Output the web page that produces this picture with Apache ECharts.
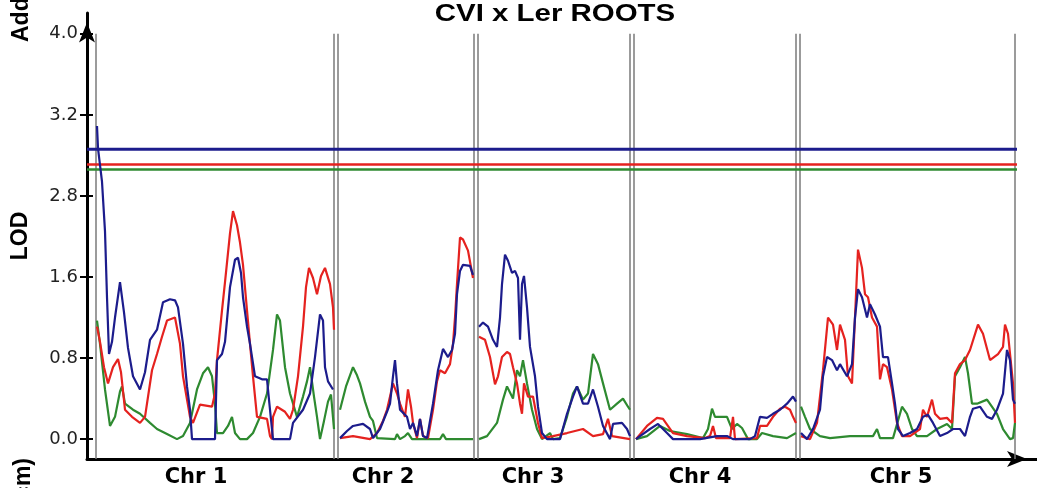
<!DOCTYPE html>
<html>
<head>
<meta charset="utf-8">
<title>CVI x Ler ROOTS</title>
<script src="https://cdn.jsdelivr.net/npm/echarts@6/dist/echarts.min.js"></script>
<style>
  html, body { margin: 0; padding: 0; background: #fff; }
  #main { width: 1037px; height: 488px; }
</style>
</head>
<body>
<div id="main"></div>
<script>
// genetic map layout (cM)
const chrNames = ['Chr 1', 'Chr 2', 'Chr 3', 'Chr 4', 'Chr 5'];
const chrLength = [119, 68, 76, 81, 107.5];
const chrLabelPos = [54.5, 148, 223, 306.5, 407];
const leftPad = 4.5;
const chrGap = 2;

const yTickValues = [0, 0.8, 1.6, 2.4, 3.2, 4.0];
const yTickLabels = ['0.0', '0.8', '1.6', '2.8', '3.2', '4.0'];

// significance thresholds (blue, red, green)
const thresholds = [2.86, 2.71, 2.66];

// LOD profiles: [position on chromosome (cM), LOD]
const blueChr1 = [[0.5,3.09],[1,2.87],[3,2.54],[4.5,2.05],[5.5,1.40],[6.5,0.84],[8,0.96],[9.5,1.20],[12,1.55],[14,1.25],[16,0.90],[18.5,0.62],[22,0.49],[24.5,0.66],[27,0.98],[30.5,1.08],[33.5,1.35],[37,1.38],[39.5,1.37],[41,1.30],[43.5,0.94],[45.5,0.52],[47,0.29],[48,0],[59.5,0],[60.5,0.78],[63,0.84],[64.5,0.96],[67,1.50],[69.5,1.77],[71,1.79],[72.5,1.64],[73.5,1.40],[75.5,1.11],[77,0.94],[79.5,0.62],[83,0.59],[85.5,0.59],[87,0.29],[88.5,0],[97,0],[98.5,0.16],[103.5,0.29],[107,0.45],[109.5,0.81],[112,1.23],[113.5,1.17],[114.5,0.71],[116,0.57],[118.5,0.49]];
const redChr1 = [[0.5,1.11],[2,0.96],[4,0.71],[6,0.55],[8.5,0.71],[11,0.79],[12.5,0.66],[14.5,0.29],[18,0.22],[22,0.16],[24.5,0.22],[28,0.68],[30.5,0.84],[33,1.01],[35.5,1.17],[39.5,1.20],[42,0.94],[43.5,0.62],[47,0.22],[48.5,0.16],[52,0.34],[58,0.32],[59.5,0.45],[60.5,0.78],[63,1.27],[64.5,1.55],[67,2.03],[68.5,2.25],[70.5,2.11],[72,1.94],[73.5,1.72],[75.5,1.27],[77,0.94],[78.5,0.62],[80.5,0.22],[85.5,0.20],[87,0.03],[88,0],[88.5,0.22],[90.5,0.32],[94.5,0.27],[97,0.20],[98.5,0.29],[101,0.62],[103.5,1.11],[105,1.50],[106.5,1.69],[108.5,1.59],[110.5,1.43],[112.5,1.61],[114.5,1.69],[117,1.53],[118.5,1.30],[119,1.08]];
const greenChr1 = [[0.5,1.17],[2,0.94],[4.5,0.49],[7,0.13],[9.5,0.22],[12,0.47],[13,0.52],[14.5,0.35],[18.5,0.29],[22,0.25],[27,0.16],[30.5,0.10],[35.5,0.05],[40.5,0],[43.5,0.03],[47,0.16],[50.5,0.49],[53.5,0.65],[56,0.71],[58,0.62],[59.5,0.35],[60.5,0.06],[63.5,0.06],[66,0.13],[68,0.22],[69.5,0.06],[72,0],[75.5,0],[78.5,0.06],[82,0.22],[85.5,0.45],[88.5,0.88],[90.5,1.23],[92,1.17],[94.5,0.71],[97,0.45],[100.5,0.22],[103.5,0.42],[105.5,0.57],[107,0.71],[109,0.42],[110.5,0.22],[112,0],[114,0.18],[116,0.37],[117.5,0.44],[119,0.10]];

const blueChr2 = [[1,0.01],[4.5,0.08],[7.5,0.13],[12.5,0.15],[16,0.10],[17.5,0.01],[21,0.10],[24.5,0.27],[26,0.35],[27.5,0.62],[28.5,0.78],[29.5,0.55],[31,0.29],[34.5,0.22],[36,0.10],[37.5,0.16],[39.5,0.03],[41,0.20],[42.5,0.03],[44.5,0.01],[47.5,0.35],[50,0.68],[52.5,0.89],[55,0.81],[57,0.88],[58.5,1.04],[59.5,1.43],[61,1.66],[62.5,1.72],[66,1.71],[67.5,1.62]];
const redChr2 = [[1,0.01],[7.5,0.03],[16,0],[19.5,0.06],[22.5,0.18],[24.5,0.29],[27.5,0.55],[29.5,0.45],[31,0.35],[33.5,0.22],[35,0.49],[36.5,0.32],[37.5,0.16],[39.5,0.01],[41,0.20],[42.5,0.03],[45,0.01],[47.5,0.29],[49.5,0.57],[51,0.68],[53.5,0.65],[56,0.74],[57.5,0.94],[58.5,1.20],[59.5,1.53],[61,1.99],[62.5,1.97],[65,1.86],[67.5,1.59]];
const greenChr2 = [[1,0.29],[4,0.52],[7.5,0.71],[9.5,0.63],[11,0.55],[13.5,0.37],[16,0.22],[17.5,0.18],[19.5,0.01],[28.5,0],[29.5,0.05],[31,0],[33.5,0.03],[35,0.06],[37,0],[51,0],[52.5,0.05],[54,0],[67.5,0]];

const blueChr3 = [[0.5,1.11],[2.5,1.15],[5,1.11],[7.5,0.98],[9.5,0.91],[11,1.20],[12,1.53],[13.5,1.82],[15,1.76],[17,1.64],[18.5,1.66],[20,1.59],[21,0.98],[22,1.53],[23,1.61],[24.5,1.30],[26,0.91],[28.5,0.62],[30,0.32],[32,0.06],[34.5,0],[41,0],[44.5,0.25],[47.5,0.42],[49.5,0.52],[52.5,0.35],[55,0.35],[57.5,0.49],[60,0.32],[62.5,0.13],[66,0],[67.5,0.15],[72,0.16],[74.5,0.10],[76,0.03]];
const redChr3 = [[0.5,1.01],[3.5,0.98],[6,0.81],[8.5,0.54],[10,0.62],[12,0.81],[14.5,0.86],[16,0.84],[17.5,0.71],[19.5,0.55],[21,0.35],[22,0.25],[23,0.55],[25,0.42],[27.5,0.42],[30,0.16],[32,0.01],[37.5,0.03],[44.5,0.06],[52.5,0.10],[57.5,0.03],[62.5,0.05],[65,0.20],[67,0.03],[76,0]];
const greenChr3 = [[0.5,0],[4.5,0.03],[9.5,0.16],[12.5,0.39],[14.5,0.52],[17.5,0.40],[19.5,0.68],[21,0.62],[22.5,0.78],[24.5,0.55],[27,0.29],[29.5,0.10],[32,0],[36,0.06],[37.5,0],[41,0.01],[44.5,0.22],[47.5,0.45],[49.5,0.52],[52.5,0.39],[55,0.45],[57.5,0.84],[60,0.74],[62.5,0.55],[66,0.29],[69.5,0.35],[72.5,0.40],[75,0.32],[76,0.29]];

const blueChr4 = [[1,0],[3,0.03],[8,0.10],[12,0.15],[16.5,0.06],[19.5,0],[33,0],[41.5,0.03],[46.5,0.03],[49.5,0],[58,0],[60.5,0.03],[63,0.22],[66.5,0.21],[69.5,0.25],[73,0.29],[76.5,0.35],[79.5,0.42],[81,0.37]];
const redChr4 = [[1,0],[6.5,0.13],[11.5,0.21],[14.5,0.20],[19.5,0.06],[26.5,0.03],[35.5,0.01],[38,0.03],[39.5,0.13],[41,0.01],[48,0.01],[49.5,0.22],[50.5,0],[61.5,0.01],[63,0.13],[66.5,0.13],[69.5,0.22],[73,0.30],[75.5,0.32],[78,0.29],[79.5,0.22],[81,0.16]];
const greenChr4 = [[1,0],[6.5,0.03],[13,0.13],[18,0.08],[26.5,0.05],[34.5,0.01],[37,0.10],[39,0.30],[40.5,0.22],[46.5,0.22],[49,0.10],[51.5,0.15],[54,0.11],[57,0],[61.5,0],[64,0.06],[69.5,0.03],[76.5,0.01],[81,0.06]];

const blueChr5 = [[0.5,0.06],[3.5,0],[6.5,0.10],[10,0.29],[11.5,0.62],[13.5,0.81],[16,0.78],[18.5,0.68],[20,0.74],[23.5,0.62],[26,0.74],[27.5,1.20],[29,1.48],[31,1.40],[33.5,1.20],[35,1.33],[37.5,1.23],[40,1.11],[41.5,0.81],[44,0.81],[46,0.55],[47.5,0.35],[49,0.10],[51.5,0.03],[55,0.06],[58.5,0.10],[61.5,0.22],[64,0.24],[66.5,0.16],[70,0.03],[73.5,0.06],[76.5,0.10],[80,0.10],[82.5,0.03],[85,0.22],[86.5,0.30],[90,0.32],[93.5,0.22],[96,0.20],[98.5,0.29],[101.5,0.45],[103.5,0.88],[105,0.78],[106.5,0.39],[107.5,0.35]];
const redChr5 = [[0.5,0.03],[5,0],[8.5,0.16],[11.5,0.68],[14,1.20],[16.5,1.13],[18.5,0.88],[20,1.13],[22.5,0.98],[24,0.62],[26,0.55],[27.5,1.20],[29,1.87],[31,1.69],[32.5,1.43],[34,1.40],[36,1.20],[38.5,1.11],[40,0.59],[41.5,0.74],[43.5,0.71],[46,0.49],[48.5,0.16],[51,0.03],[55,0.03],[60,0.10],[61.5,0.29],[63.5,0.22],[66,0.39],[67.5,0.25],[70,0.20],[73.5,0.21],[76,0.16],[77.5,0.65],[80,0.74],[82.5,0.78],[85,0.88],[89,1.13],[91.5,1.04],[95,0.78],[99,0.84],[101.5,0.91],[102.5,1.13],[104,1.04],[106.5,0.55],[107.5,0.16]];
const greenChr5 = [[0.5,0.32],[2.5,0.22],[5,0.10],[10,0.03],[15,0.01],[25,0.03],[36.5,0.03],[38.5,0.10],[40,0.01],[46.5,0.01],[51,0.32],[53.5,0.25],[56,0.10],[58.5,0.03],[63.5,0.03],[68.5,0.10],[73.5,0.15],[76,0.10],[77.5,0.62],[80,0.71],[82.5,0.81],[84,0.65],[86,0.35],[88.5,0.35],[93.5,0.39],[98.5,0.25],[101.5,0.10],[105,0],[106.5,0.01],[107.5,0.16]];

const BLUE = '#1c1c8c';
const RED = '#e5221f';
const GREEN = '#2e8a30';

// chromosome start positions on the whole-genome axis
const chrStart = [];
let acc = leftPad;
chrLength.forEach(len => { chrStart.push(acc); acc += len + chrGap; });
const mapEnd = chrStart[4] + chrLength[4];

const yMin = -0.196, yMax = 4.205;

const series = [];

// chromosome borders
chrStart.forEach((s, i) => {
  [s, s + chrLength[i]].forEach(b => {
    series.push({
      type: 'line', silent: true, showSymbol: false, z: 1,
      data: [[b, yMin], [b, 4.0]],
      lineStyle: { color: '#7a7a7a', width: 1.5 }
    });
  });
});

// threshold lines
[GREEN, RED, BLUE].forEach((c, k) => {
  const t = thresholds[2 - k];
  series.push({
    type: 'line', silent: true, showSymbol: false, z: 2,
    data: [[0, t], [mapEnd + 1, t]],
    lineStyle: { color: c, width: c === BLUE ? 3 : 2.5 }
  });
});

function addProfile(color, profiles) {
  profiles.forEach((pts, i) => {
    series.push({
      type: 'line', silent: true, showSymbol: false, z: 3,
      data: pts.map(p => [chrStart[i] + p[0], p[1]]),
      lineStyle: { color: color, width: 2.2 }
    });
  });
}
addProfile(GREEN, [greenChr1, greenChr2, greenChr3, greenChr4, greenChr5]);
addProfile(RED, [redChr1, redChr2, redChr3, redChr4, redChr5]);
addProfile(BLUE, [blueChr1, blueChr2, blueChr3, blueChr4, blueChr5]);

const myChart = echarts.init(document.getElementById('main'));

const option = {
  animation: false,
  backgroundColor: '#fff',
  grid: { left: 87, right: 0, top: 13, bottom: 25, containLabel: false },
  xAxis: {
    type: 'value',
    min: 0,
    max: 475,
    splitLine: { show: false },
    axisTick: { show: false },
    axisLine: {
      show: true,
      onZero: false,
      symbol: ['none', 'arrow'],
      symbolSize: [12, 20],
      symbolOffset: [0, -10],
      lineStyle: { color: '#000', width: 3 }
    },
    axisLabel: {
      customValues: chrLabelPos,
      formatter: v => chrNames[chrLabelPos.indexOf(v)] || '',
      fontFamily: 'DejaVu Sans',
      fontWeight: 'bold',
      fontSize: 21,
      color: '#000',
      margin: 8
    }
  },
  yAxis: [
    {
      type: 'value',
      position: 'left',
      min: yMin,
      max: yMax,
      splitLine: { show: false },
      name: 'LOD',
      nameLocation: 'middle',
      nameRotate: 90,
      nameGap: 55,
      nameTextStyle: {
        fontFamily: 'Liberation Sans',
        fontWeight: 'bold',
        fontSize: 23,
        color: '#000'
      },
      axisLine: {
        show: true,
        onZero: false,
        symbol: ['none', 'arrow'],
        symbolSize: [12, 20],
        symbolOffset: [0, -9.5],
        lineStyle: { color: '#000', width: 3 }
      },
      axisTick: {
        show: true,
        customValues: yTickValues,
        length: 7,
        lineStyle: { color: '#000', width: 2 }
      },
      axisLabel: {
        customValues: yTickValues,
        formatter: v => {
          const i = yTickValues.findIndex(t => Math.abs(t - v) < 1e-6);
          return i < 0 ? '' : yTickLabels[i];
        },
        fontFamily: 'DejaVu Sans',
        fontSize: 18,
        color: '#222',
        margin: 9
      }
    },
    {
      type: 'value',
      position: 'left',
      min: yMin,
      max: yMax,
      splitLine: { show: false },
      axisLine: { show: false },
      axisLabel: { show: false },
      axisTick: {
        show: true,
        inside: true,
        customValues: yTickValues,
        length: 6,
        lineStyle: { color: '#000', width: 2 }
      }
    }
  ],
  graphic: [
    {
      type: 'text', x: 555, y: 14.5, scaleX: 1.28,
      style: {
        text: 'CVI x Ler ROOTS',
        font: 'bold 23px "Liberation Sans"',
        fill: '#000', align: 'center', verticalAlign: 'middle'
      }
    },
    {
      type: 'text', x: 22, y: 42, rotation: Math.PI / 2,
      style: {
        text: 'Additive effect',
        font: 'bold 23px "Liberation Sans"',
        fill: '#000', align: 'left', verticalAlign: 'middle'
      }
    },
    {
      type: 'text', x: 24, y: 458, rotation: Math.PI / 2,
      style: {
        text: 'Position (cm)',
        font: 'bold 23px "Liberation Sans"',
        fill: '#000', align: 'right', verticalAlign: 'middle'
      }
    }
  ],
  series: series
};

myChart.setOption(option);
</script>
</body>
</html>
